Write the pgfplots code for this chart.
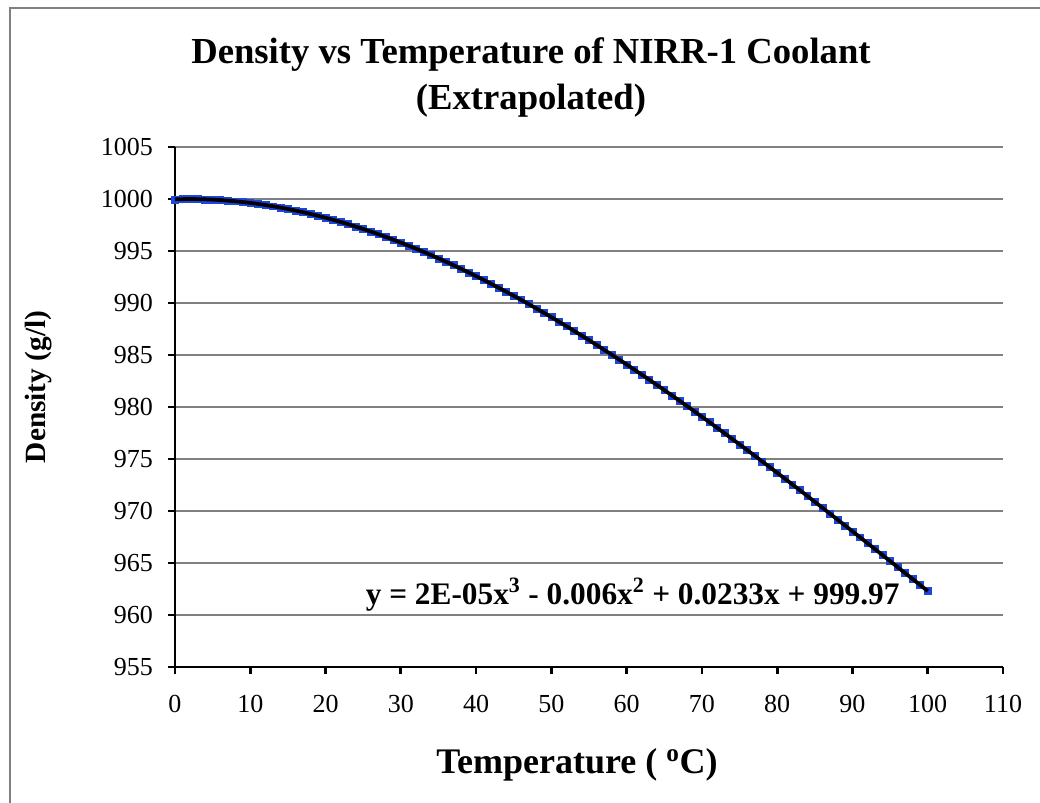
\documentclass[border=0pt]{standalone}
\usepackage{pgfplots}
\pgfplotsset{compat=1.18}
\usepackage{pgfplotstable}
\usepackage{fontspec}
\setmainfont{Liberation Serif}
\definecolor{ptblue}{RGB}{30,70,220}
\definecolor{gridgray}{RGB}{128,128,128}
\pgfplotstableread{
T D
0 999.970
1 999.987
2 999.993
3 999.986
4 999.968
5 999.939
6 999.898
7 999.846
8 999.783
9 999.708
10 999.623
11 999.527
12 999.420
13 999.303
14 999.175
15 999.037
16 998.889
17 998.730
18 998.562
19 998.384
20 998.196
21 997.999
22 997.792
23 997.575
24 997.350
25 997.115
26 996.871
27 996.619
28 996.357
29 996.087
30 995.809
31 995.522
32 995.227
33 994.924
34 994.612
35 994.293
36 993.966
37 993.631
38 993.289
39 992.939
40 992.582
41 992.218
42 991.846
43 991.468
44 991.083
45 990.691
46 990.293
47 989.888
48 989.476
49 989.059
50 988.635
51 988.205
52 987.770
53 987.328
54 986.881
55 986.429
56 985.971
57 985.508
58 985.040
59 984.566
60 984.088
61 983.605
62 983.117
63 982.625
64 982.128
65 981.627
66 981.122
67 980.612
68 980.099
69 979.582
70 979.061
71 978.537
72 978.009
73 977.477
74 976.943
75 976.405
76 975.864
77 975.321
78 974.774
79 974.225
80 973.674
81 973.120
82 972.564
83 972.006
84 971.445
85 970.883
86 970.319
87 969.753
88 969.186
89 968.617
90 968.047
91 967.476
92 966.903
93 966.330
94 965.756
95 965.181
96 964.606
97 964.030
98 963.453
99 962.877
100 962.300
}\density
\begin{document}
\begin{tikzpicture}[x=0.75pt,y=0.75pt]
\path[use as bounding box] (0,0) rectangle (1040,803);
\draw[gridgray, line width=1.5pt] (10,-5) -- (10,795) -- (1045,795);
\node[font=\fontsize{27.5}{30}\selectfont\bfseries] at (531,748) {Density vs Temperature of NIRR-1 Coolant};
\node[font=\fontsize{27.5}{30}\selectfont\bfseries] at (531,702) {(Extrapolated)};
\node[font=\fontsize{22}{24}\selectfont\bfseries, rotate=90] at (39,416) {Density (g/l)};
\node[font=\fontsize{27}{30}\selectfont\bfseries] at (577,38) {Temperature ( \textsuperscript{o}C)};
\begin{axis}[
  at={(131.25pt,102pt)}, anchor=south west,
  width=621pt, height=390pt, scale only axis,
  xmin=0, xmax=110, ymin=955, ymax=1005,
  xtick={0,10,...,110}, ytick={955,960,...,1005},
  axis x line*=bottom, axis y line*=left,
  axis line style={-, black, line width=2.2pt},
  ymajorgrids, grid style={gridgray, line width=1pt},
  tick align=outside, major tick length=5pt,
  tick style={black, line width=2pt},
  xticklabel style={font=\fontsize{19.5}{20}\selectfont, yshift=-13pt},
  yticklabel style={font=\fontsize{19.5}{20}\selectfont, xshift=-8pt},
  /pgf/number format/assume math mode=true,
  /pgf/number format/1000 sep={},
  clip=false, clip mode=individual,
]
\addplot[only marks, mark=square*, mark size=2.6pt, color=ptblue] table[x=T,y=D] {\density};
\addplot[black, line width=2.8pt, smooth] table[x=T,y=D] {\density};
\node[font=\fontsize{23.5}{25}\selectfont\bfseries] at (axis cs:60.8,962.0) {y = 2E-05x\textsuperscript{3} - 0.006x\textsuperscript{2} + 0.0233x + 999.97};
\end{axis}
\end{tikzpicture}
\end{document}
